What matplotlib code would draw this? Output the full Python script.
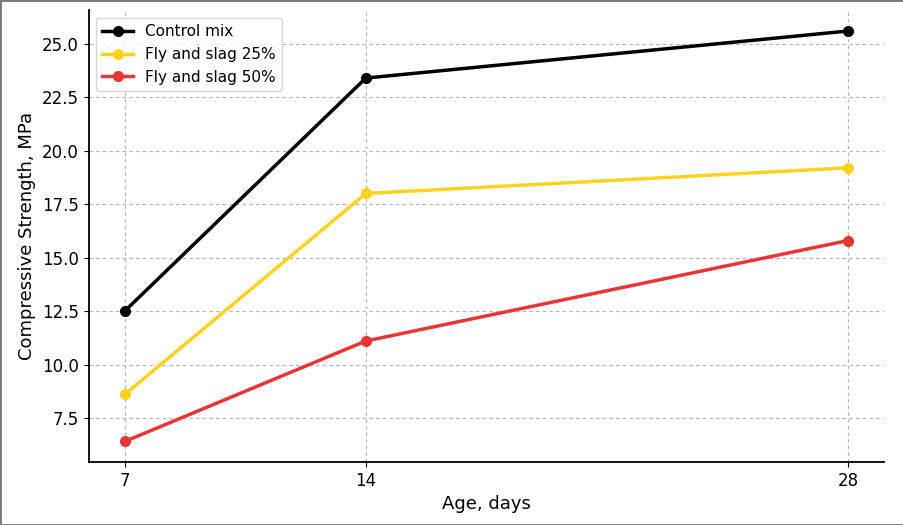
import matplotlib
matplotlib.use("Agg")
import matplotlib.pyplot as plt

# Datos
age = [7, 14, 28]
control = [12.5, 23.4, 25.6]
fly_slag_25 = [8.6, 18.0, 19.2]
fly_slag_50 = [6.4, 11.1, 15.8]

fig, ax = plt.subplots(figsize=(9.04, 5.25), dpi=100)
fig.subplots_adjust(left=0.098, right=0.978, top=0.98, bottom=0.12)

ax.plot(age, control, marker='o', color='black', linewidth=2.5, markersize=7, label='Control mix')
ax.plot(age, fly_slag_25, marker='o', color='#FFD21F', linewidth=2.5, markersize=7, label='Fly and slag 25%')
ax.plot(age, fly_slag_50, marker='o', color='#E83535', linewidth=2.5, markersize=7, label='Fly and slag 50%')

ax.set_xticks(age)
ax.set_xlabel('Age, days', fontsize=13)
ax.set_ylabel('Compressive Strength, MPa', fontsize=13)
ax.tick_params(labelsize=12)
ax.grid(True, linestyle=(0, (3, 3)), color='#b0b0b0', linewidth=0.8)
ax.spines['top'].set_visible(False)
ax.spines['right'].set_visible(False)
ax.spines['left'].set_linewidth(1.3)
ax.spines['bottom'].set_linewidth(1.3)
ax.legend(loc='upper left', fontsize=11)

# borde de la figura
fig.patches.append(plt.Rectangle((0, 0), 1, 1, transform=fig.transFigure,
                                 fill=False, edgecolor='#777777', linewidth=2))

plt.savefig('out.png', dpi=100)
